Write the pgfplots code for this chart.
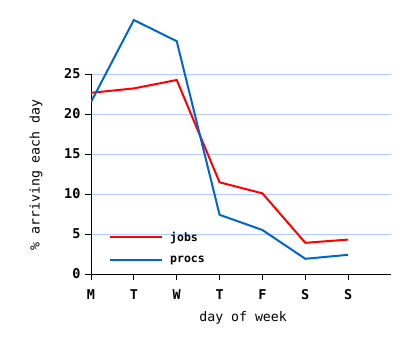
\documentclass[border=0pt]{standalone}
\usepackage{fontspec}
\setmainfont{DejaVu Sans Mono}
\usepackage{pgfplots}
\pgfplotsset{compat=1.18}
\definecolor{jobsred}{RGB}{255,0,0}
\definecolor{procsblue}{RGB}{0,102,204}
\definecolor{gridblue}{RGB}{175,205,255}
\begin{document}
\begin{tikzpicture}[x=1pt,y=1pt]
\path[use as bounding box] (0,0) rectangle (411,345);
\begin{axis}[
  at={(91pt,71pt)}, anchor=south west,
  scale only axis, width=300pt, height=256pt,
  xmin=0, xmax=7, ymin=0, ymax=32,
  axis x line*=bottom, axis y line*=left,
  y axis line style={draw=none},
  xtick={0,1,2,3,4,5,6},
  xticklabels={M,T,W,T,F,S,S},
  ytick={0,5,10,15,20,25},
  ymajorgrids, grid style={gridblue, line width=0.8pt},
  tick align=outside, major tick length=6pt,
  tick style={black, line width=0.8pt},
  axis line style={line width=0.8pt},
  /pgf/number format/assume math mode=true,
  ticklabel style={font=\bfseries\fontsize{13.5}{13.5}\selectfont},
  xticklabel style={yshift=-6pt},
  yticklabel style={xshift=-1pt},
  xlabel={day of week},
  ylabel={\% arriving each day},
  every axis x label/.style={at={(axis description cs:0.507,-0.172)},anchor=center,font=\fontsize{13.2}{13.2}\selectfont},
  every axis y label/.style={at={(axis description cs:-0.183,0.387)},rotate=90,anchor=center,font=\fontsize{13.2}{13.2}\selectfont},
  legend style={draw=none, fill=none, at={(axis description cs:0.06,0.173)}, anchor=north west,
    font=\bfseries\fontsize{11.5}{11.5}\selectfont, row sep=9pt, inner sep=0pt,
    nodes={inner xsep=7pt}},
  legend cell align=left,
  legend image code/.code={\draw[#1] (0pt,0pt) -- (52pt,0pt);},
]
\draw[black, line width=0.8pt] (axis cs:0,0) -- (axis cs:0,25);
\addplot[jobsred, line width=2pt] coordinates {
 (0,22.65) (1,23.2) (2,24.25) (3,11.46) (4,10.08) (5,3.9) (6,4.3)};
\addlegendentry{jobs}
\addplot[procsblue, line width=2pt] coordinates {
 (0,21.5) (1,31.75) (2,29.1) (3,7.4) (4,5.5) (5,1.9) (6,2.4)};
\addlegendentry{procs}
\end{axis}
\end{tikzpicture}
\end{document}
